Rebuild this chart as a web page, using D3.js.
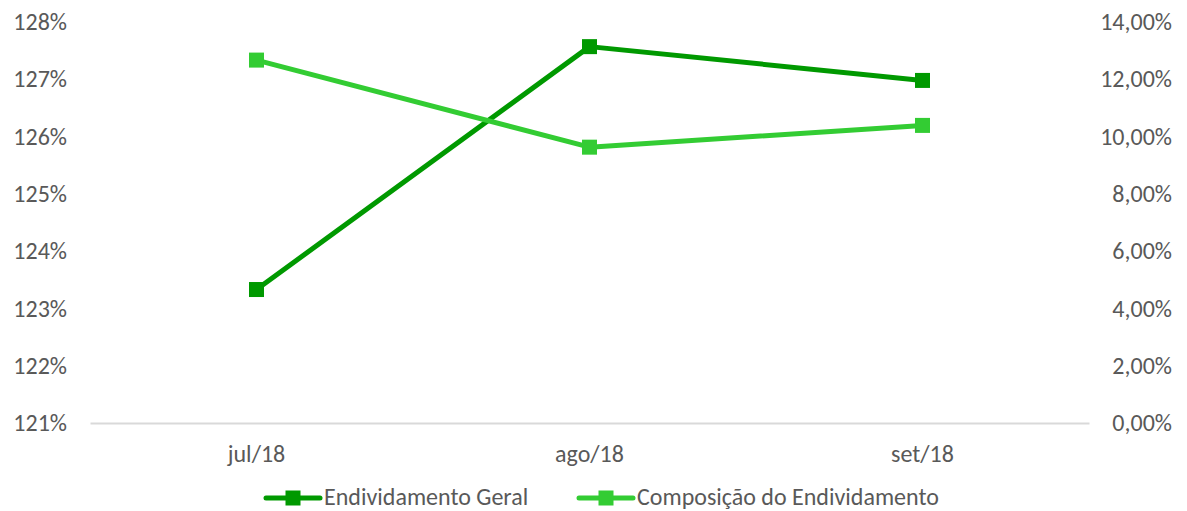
<!DOCTYPE html>
<html>
<head>
<meta charset="utf-8">
<script src="https://cdn.jsdelivr.net/npm/d3@7"></script>
<style>
  body { margin: 0; background: #fff; }
  text { font-family: Calibri, Carlito, "Liberation Sans Narrow", "Open Sans", sans-serif; fill: #595959; }
</style>
</head>
<body>
<div id="chart"></div>
<script>
// chart data
var categories = ["jul/18", "ago/18", "set/18"];
var geralValues = [123.33, 127.57, 126.98];        // left axis (%)
var composicaoValues = [12.67, 9.63, 10.39];       // right axis (%)
var leftTicks = [121, 122, 123, 124, 125, 126, 127, 128];
var rightTicks = [0, 2, 4, 6, 8, 10, 12, 14];
var seriesNames = ["Endividamento Geral", "Composição do Endividamento"];

var svgWidth = 1187;
var svgHeight = 511;
var margin = { top: 22, right: 98, bottom: 88, left: 90 };
var width = svgWidth - margin.left - margin.right;
var height = svgHeight - margin.top - margin.bottom;

var darkGreen = "#009900";
var lightGreen = "#33cc33";
var fontSize = "24px";

var svg = d3.select("#chart")
  .append("svg")
  .attr("width", svgWidth)
  .attr("height", svgHeight);

var chartGroup = svg.append("g")
  .attr("transform", `translate(${margin.left}, ${margin.top})`);

// scales
var xScale = d3.scaleBand()
  .domain(categories)
  .range([0, width]);

var yLeft = d3.scaleLinear()
  .domain([121, 128])
  .range([height, 0]);

var yRight = d3.scaleLinear()
  .domain([0, 14])
  .range([height, 0]);

// axes
var leftAxis = d3.axisLeft(yLeft)
  .tickValues(leftTicks)
  .tickSize(0)
  .tickPadding(23)
  .tickFormat(d => d + "%");

var rightAxis = d3.axisRight(yRight)
  .tickValues(rightTicks)
  .tickSize(0)
  .tickPadding(83)
  .tickFormat(d => d3.format(".2f")(d).replace(".", ",") + "%");

var bottomAxis = d3.axisBottom(xScale)
  .tickSize(0)
  .tickPadding(22);

var gl = chartGroup.append("g").call(leftAxis);
gl.select(".domain").remove();
gl.selectAll("text").style("font-size", fontSize);

var gr = chartGroup.append("g")
  .attr("transform", `translate(${width}, 0)`)
  .call(rightAxis);
gr.select(".domain").remove();
gr.selectAll("text").style("font-size", fontSize).attr("text-anchor", "end");

var gb = chartGroup.append("g")
  .attr("transform", `translate(0, ${height})`)
  .call(bottomAxis);
gb.select(".domain").attr("stroke", "#d9d9d9").attr("stroke-width", 2);
gb.selectAll("text").style("font-size", fontSize);

// lines
var xPos = d => xScale(d) + xScale.bandwidth() / 2;

var series = [
  { name: seriesNames[0], values: geralValues, y: yLeft, color: darkGreen },
  { name: seriesNames[1], values: composicaoValues, y: yRight, color: lightGreen }
];

series.forEach(function(s) {
  var line = d3.line()
    .x((d, i) => xPos(categories[i]))
    .y(d => s.y(d));

  chartGroup.append("path")
    .datum(s.values)
    .attr("fill", "none")
    .attr("stroke", s.color)
    .attr("stroke-width", 5)
    .attr("stroke-linejoin", "round")
    .attr("d", line);

  chartGroup.selectAll(null)
    .data(s.values)
    .enter()
    .append("rect")
    .attr("x", (d, i) => xPos(categories[i]) - 7.5)
    .attr("y", d => s.y(d) - 7.5)
    .attr("width", 15)
    .attr("height", 15)
    .attr("fill", s.color);
});

// legend
var legend = svg.append("g")
  .attr("transform", "translate(0, 498)");

var legendX = [264, 577];
series.forEach(function(s, i) {
  var g = legend.append("g").attr("transform", `translate(${legendX[i]}, 0)`);
  g.append("line")
    .attr("x1", 2).attr("x2", 56)
    .attr("stroke", s.color)
    .attr("stroke-width", 5)
    .attr("stroke-linecap", "round");
  g.append("rect")
    .attr("x", 21.5).attr("y", -7.5)
    .attr("width", 15).attr("height", 15)
    .attr("fill", s.color);
  g.append("text")
    .attr("x", 60)
    .attr("dy", "0.3em")
    .style("font-size", fontSize)
    .text(s.name);
});
</script>
</body>
</html>
